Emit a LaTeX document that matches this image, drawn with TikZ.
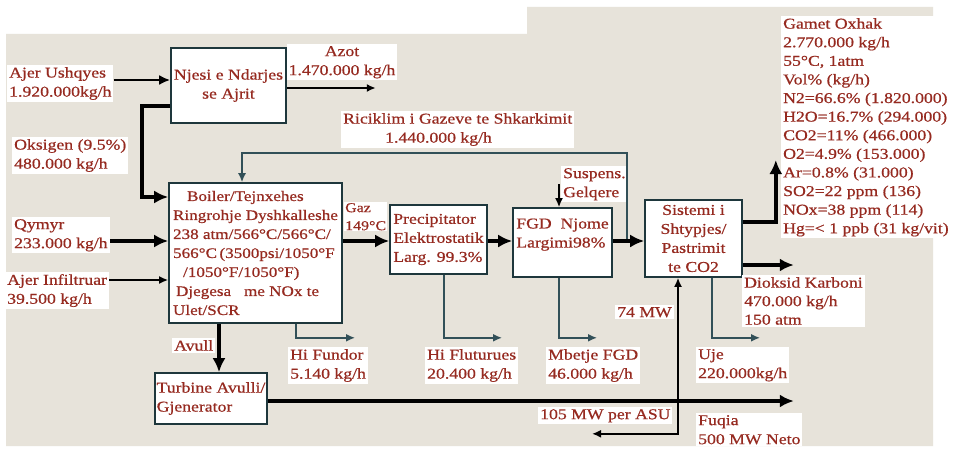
\documentclass[tikz,border=0pt]{standalone}
\usepackage{fontspec}
\newfontfamily\lbf[FakeStretch=1.18,FakeBold=0.6]{Liberation Serif}
\usetikzlibrary{arrows.meta,calc}
\definecolor{bg}{RGB}{231,227,218}
\definecolor{txt}{RGB}{150,42,32}
\definecolor{edge}{RGB}{30,55,60}
\definecolor{thinc}{RGB}{50,80,88}
\tikzset{
 lbl/.style={text=txt, fill=white, inner sep=2pt, align=left, anchor=north west, font=\lbf\fontsize{15}{19}\selectfont},
 proc/.style={draw=edge, line width=1.6pt, fill=white, text=txt, inner sep=1pt, font=\lbf\fontsize{15}{19}\selectfont},
 thk/.style={line width=4pt, -{Latex[length=14pt,width=13pt]}},
 midarr/.style={line width=2.6pt, -{Latex[length=11pt,width=10pt]}},
 smallarr/.style={line width=1.8pt, -{Latex[length=9pt,width=8pt]}},
 thn/.style={draw=thinc, line width=1.5pt, -{Latex[length=9pt,width=8pt]}},
 pw/.style={line width=1.8pt, {Latex[length=9pt,width=8pt]}-{Latex[length=9pt,width=8pt]}},
}
\begin{document}
\begin{tikzpicture}[x=1pt,y=-1pt]
\useasboundingbox (0,0) rectangle (957,449);
\fill[white] (0,0) rectangle (957,449);
\fill[bg] (6,34) -- (527,34) -- (527,7) -- (933,7) -- (933,446) -- (6,446) -- cycle;

% process boxes
\node[proc, minimum width=115pt, minimum height=75pt, align=center] (njesi) at (228.5,85.5) {Njesi e Ndarjes\\se Ajrit};
\node[proc, minimum width=173pt, minimum height=140pt, align=left, font=\lbf\fontsize{14.5}{19}\selectfont] (boiler) at (255.5,253) {\hspace{14pt}Boiler/Tejnxehes\\Ringrohje Dyshkalleshe\\238 atm/566°C/566°C/\\566°C\hspace{2.5pt}(3500psi/1050°F\\\hspace{10pt}/1050°F/1050°F)\\\hspace{3pt}Djegesa\ \ \ me NOx te\\Ulet/SCR};
\node[proc, minimum width=97pt, minimum height=69pt, align=left] (precip) at (438.5,239.5) {Precipitator\\Elektrostatik\\Larg. 99.3\%};
\node[proc, minimum width=99pt, minimum height=69pt, align=left] (fgd) at (562.5,242.5) {FGD\ \ Njome\hspace{12pt}\\Largimi98\%\\\mbox{}};
\node[proc, minimum width=97pt, minimum height=77pt, align=center] (sist) at (693.5,238.5) {Sistemi i\\Shtypjes/\\Pastrimit\\te CO2};
\node[proc, minimum width=112pt, minimum height=51pt, align=left] (turb) at (211,398.5) {Turbine Avulli/\\Gjenerator\hspace{30pt}};

% labels
\node[lbl] (ajer) at (7,65) {Ajer Ushqyes\\1.920.000kg/h};
\node[lbl] (oks) at (12,137) {Oksigen (9.5\%)\\480.000 kg/h};
\node[lbl, anchor=north, align=center] (azot) at (342,44) {Azot\\1.470.000 kg/h};
\node[lbl] (ric) at (341,111) {Riciklim i Gazeve te Shkarkimit\\\hspace{42pt}1.440.000 kg/h};
\node[lbl] (susp) at (561,166) {Suspens.\\Gelqere};
\node[lbl] (qymyr) at (12,217) {Qymyr\\233.000 kg/h};
\node[lbl] (infil) at (5,272) {Ajer Infiltruar\\39.500 kg/h};
\node[lbl, inner sep=1pt, font=\lbf\fontsize{13.5}{18}\selectfont] (gaz) at (344,202) {Gaz\\149°C};
\node[lbl] (avull) at (172,338) {Avull};
\node[lbl] (hif) at (288,347) {Hi Fundor\\5.140 kg/h};
\node[lbl] (hifl) at (425,347) {Hi Fluturues\\20.400 kg/h};
\node[lbl] (mbet) at (546,347) {Mbetje FGD\\46.000 kg/h};
\node[lbl] (mw74) at (615,305) {74 MW};
\node[lbl] (mw105) at (538,407) {105 MW per ASU};
\node[lbl, font=\lbf\fontsize{15}{18.5}\selectfont] (diok) at (742,275) {Dioksid Karboni\\470.000 kg/h\\150 atm};
\node[lbl] (uje) at (696,347) {Uje\\220.000kg/h};
\node[lbl] (fuqia) at (696,413) {Fuqia\\500 MW Neto};
\node[lbl, font=\lbf\fontsize{15}{18.6}\selectfont] (gamet) at (781,16) {Gamet Oxhak\\2.770.000 kg/h\\55°C, 1atm\\Vol\% (kg/h)\\N2=66.6\% (1.820.000)\\H2O=16.7\% (294.000)\\CO2=11\% (466.000)\\O2=4.9\% (153.000)\\Ar=0.8\% (31.000)\\SO2=22 ppm (136)\\NOx=38 ppm (114)\\Hg=< 1 ppb (31 kg/vit)};

% level coordinates
\coordinate (yf) at (0,241);
\coordinate (yA) at (0,80);
\coordinate (yI) at (0,280);

% connectors
\draw[midarr] (ajer.east |- yA) -- (njesi.west |- yA);
\draw[thk] ([yshift=-20.5pt]njesi.west) -- ++(-28,0) |- ([yshift=56pt]boiler.west);
\draw[smallarr, line width=2.2pt] ([yshift=-2.5pt]njesi.east) -- ++(89,0);
\coordinate (rc) at ($(sist.west |- yf)+(-17,0)$);
\draw[thn] (rc) -- ++(0,-88) -| ([xshift=-13.5pt]boiler.north);
\draw[smallarr] ([xshift=-2pt]susp.west) -- ([xshift=-2pt]susp.west |- fgd.north);
\draw[thk] (qymyr.east |- yf) -- (boiler.west |- yf);
\draw[smallarr] (infil.east |- yI) -- (boiler.west |- yI);
\draw[thk] (boiler.east |- yf) -- (precip.west |- yf);
\draw[thk] (precip.east |- yf) -- (fgd.west |- yf);
\draw[thk] (fgd.east |- yf) -- (sist.west |- yf);
\draw[thk] ([yshift=16.5pt]sist.east) -- ++(33,0) -- ++(0,-62);
\draw[thk] ([yshift=-26.5pt]sist.east) -- ++(51,0);
\draw[thn] ([xshift=18.5pt]sist.south) -- ++(0,60) -- ++(48,0);
\draw[thk] ([xshift=-36.5pt]boiler.south) -- ([xshift=-36.5pt]boiler.south |- turb.north);
\draw[thk] ([yshift=-2.5pt]turb.east) -- ++(526,0);
\draw[pw] ([xshift=-15.5pt]sist.south) -- ++(0,156) -- ++(-86,0);
\draw[thn] ([xshift=40.5pt]boiler.south) -- ++(0,14) -- ++(59,0);
\draw[thn] ([xshift=5.5pt]precip.south) -- ++(0,63) -- ++(58,0);
\draw[thn] ([xshift=-3.5pt]fgd.south) -- ++(0,60) -- ++(38,0);
\end{tikzpicture}
\end{document}
